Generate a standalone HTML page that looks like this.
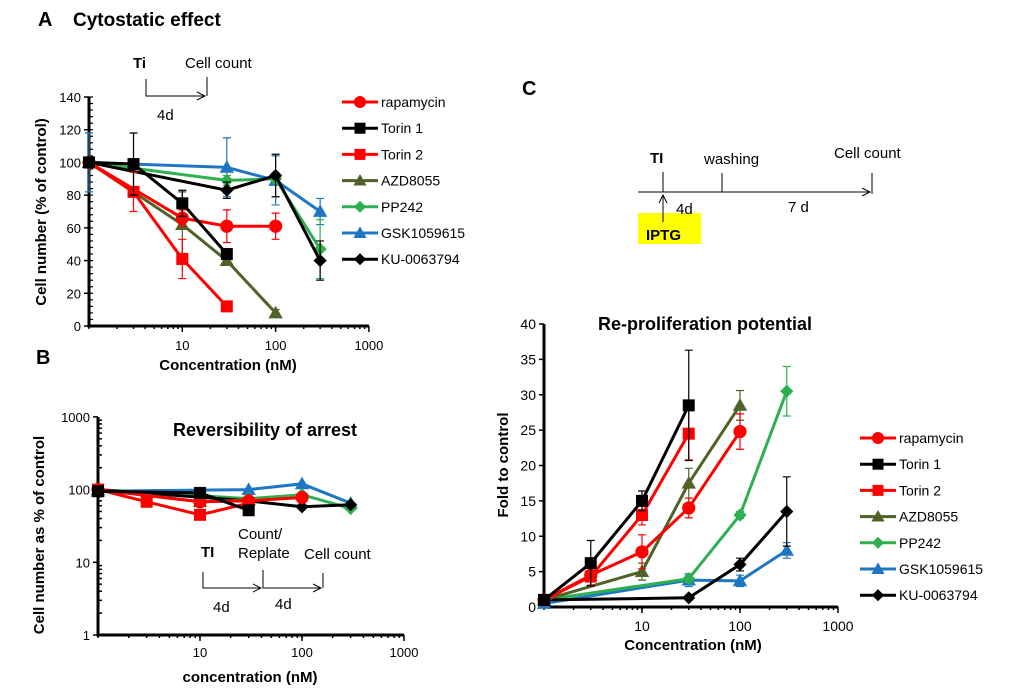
<!DOCTYPE html>
<html><head><meta charset="utf-8"><style>
body{margin:0;background:#fff}
svg{display:block;font-family:"Liberation Sans",Arial,sans-serif}
</style></head><body>
<svg id="fig" width="1020" height="694" viewBox="0 0 1020 694" xmlns="http://www.w3.org/2000/svg">
<defs><marker id="ar" markerWidth="10" markerHeight="10" refX="9" refY="5" orient="auto"><path d="M1,1 L9,5 L1,9" fill="none" stroke="#000" stroke-width="1"/></marker></defs>
<g>
<text x="38" y="26" font-size="20" font-weight="bold">A</text>
<text x="73" y="26" font-size="19" font-weight="bold">Cytostatic effect</text>
<text x="133" y="68" font-size="15" font-weight="bold">Ti</text>
<text x="185" y="68" font-size="15">Cell count</text>
<path d="M146,79 V96 H205" fill="none" stroke="#000" marker-end="url(#ar)"/>
<path d="M207,77 V96" stroke="#000"/>
<text x="157" y="120" font-size="15">4d</text>
</g>
<text x="36" y="364" font-size="20" font-weight="bold">B</text>
<text x="522" y="95" font-size="20" font-weight="bold">C</text>
<g>
<rect x="638" y="213" width="63" height="31" fill="#ffff00"/>
<text x="646" y="240" font-size="15" font-weight="bold">IPTG</text>
<text x="650" y="163" font-size="15" font-weight="bold">TI</text>
<text x="704" y="164" font-size="15">washing</text>
<text x="834" y="158" font-size="15">Cell count</text>
<path d="M638,192 H870" stroke="#000" marker-end="url(#ar)"/>
<path d="M663,172 V192 M722,173 V192 M872,173 V194" stroke="#000"/>
<path d="M663,222 V195" stroke="#000" marker-end="url(#ar)"/>
<text x="676" y="214" font-size="15">4d</text>
<text x="788" y="212" font-size="15">7 d</text>
</g>
<g>
<text x="201" y="557" font-size="15" font-weight="bold">TI</text>
<text x="238" y="539" font-size="15">Count/</text>
<text x="238" y="558" font-size="15">Replate</text>
<text x="304" y="559" font-size="15">Cell count</text>
<path d="M203,572 V588 H261" fill="none" stroke="#000" marker-end="url(#ar)"/>
<path d="M263,570 V588 H321" fill="none" stroke="#000" marker-end="url(#ar)"/>
<path d="M323,573 V588" stroke="#000"/>
<text x="213" y="612" font-size="15">4d</text>
<text x="275" y="609" font-size="15">4d</text>
</g>
<text x="265" y="436" font-size="18" font-weight="bold" text-anchor="middle">Reversibility of arrest</text>
<text x="705" y="330" font-size="18" font-weight="bold" text-anchor="middle">Re-proliferation potential</text>
</svg>
<script>
const names = ["rapamycin","Torin 1","Torin 2","AZD8055","PP242","GSK1059615","KU-0063794"];
const conc = [1,3,10,30,100,300];
// null = not measured
const aValues = [
 [100,null,66,61,61,null],
 [100,99,75,44,null,null],
 [100,82,41,12,null,null],
 [100,null,62,40,8,null],
 [100,null,null,89,90,47],
 [100,99,null,97,89,70],
 [100,null,null,83,92,40]];
const aErr = [
 [3,null,5,10,8,null],[3,19,8,3,null,null],[3,12,12,2,null,null],[3,null,20,2,2,null],
 [3,null,null,3,3,18],[18,3,null,18,15,8],[3,null,null,5,13,12]];
const bValues = [
 [100,null,68,70,78,null],
 [95,null,90,52,null,null],
 [100,68,45,65,null,null],
 [100,null,68,72,null,null],
 [100,null,null,75,85,55],
 [95,null,null,100,120,65],
 [100,null,null,70,58,62]];
const cValues = [
 [1,4.5,7.8,14,24.8,null],
 [1,6.2,15,28.5,null,null],
 [1,4.3,13,24.5,null,null],
 [1,null,5,17.5,28.5,null],
 [1,null,null,4,13,30.5],
 [0.5,null,null,3.8,3.7,8],
 [1,null,null,1.3,6,13.5]];
const cErr = [
 [0.5,1.5,2.4,1.4,2.5,null],[0.5,3.2,1.4,7.8,null,null],[0.5,1.2,1.4,3.7,null,null],
 [0.5,null,1.2,2.1,2.1,null],[0.5,null,null,0.5,0.5,3.5],[0.5,null,null,0.9,0.8,1.1],[0.5,null,null,0.3,0.9,4.9]];
const aTicks=[0,20,40,60,80,100,120,140];
const bTicks=[1,10,100,1000];
const cTicks=[0,5,10,15,20,25,30,35,40];
const xTickLabels=[10,100,1000];

const colors=["#ff0000","#000000","#ff0000","#4f6228","#2fb050","#1f77c4","#000000"];
const markers=["circle","square","square","triangle","diamond","triangle","diamond"];
const NS="http://www.w3.org/2000/svg";
const svg=document.getElementById('fig');
function el(t,a,p){const e=document.createElementNS(NS,t);for(const k in a)e.setAttribute(k,a[k]);(p||svg).appendChild(e);return e;}
function marker(g,type,x,y,c,s){
 if(type==="circle")return el('circle',{cx:x,cy:y,r:s*0.55,fill:c},g);
 if(type==="square")return el('rect',{x:x-s/2,y:y-s/2,width:s,height:s,fill:c},g);
 if(type==="triangle")return el('polygon',{points:`${x},${y-s*0.6} ${x+s*0.6},${y+s*0.45} ${x-s*0.6},${y+s*0.45}`,fill:c},g);
 return el('polygon',{points:`${x},${y-s*0.55} ${x+s*0.55},${y} ${x},${y+s*0.55} ${x-s*0.55},${y}`,fill:c},g);
}
function panel(cfg){
 const g=el('g',{});  
 const xs=v=>cfg.x0+Math.log10(v)*cfg.dec;
 const ys=v=>cfg.log?cfg.yb-Math.log10(v)*cfg.ydec:cfg.yb-(v-cfg.ymin)/(cfg.ymax-cfg.ymin)*(cfg.yb-cfg.yt);
 const ax=el('path',{d:`M${cfg.x0},${cfg.yt} V${cfg.yb} H${xs(1000)}`,stroke:'#000','stroke-width':3,fill:'none'},g);
 
 for(let d=0;d<3;d++)for(let m=1;m<=10;m++){const xx=xs(m*Math.pow(10,d));el('line',{x1:xx,x2:xx,y1:cfg.yb,y2:cfg.yb+(m===10?6:3),stroke:'#000','stroke-width':1.5},g);}
 cfg.ticks.forEach(t=>{const yy=ys(t);el('line',{x1:cfg.x0-5,x2:cfg.x0,y1:yy,y2:yy,stroke:'#000','stroke-width':1.5},g);
  const tx=el('text',{x:cfg.x0-8,y:yy+5,'font-size':cfg.fs,'text-anchor':'end'},g);tx.textContent=t;});
 if(cfg.minorY){ if(cfg.log){for(let d=0;d<3;d++)for(let m=2;m<10;m++){const yy=ys(m*Math.pow(10,d));el('line',{x1:cfg.x0,x2:cfg.x0+4,y1:yy,y2:yy,stroke:'#000','stroke-width':1.5},g);}}
  else{for(let v=cfg.ymin;v<=cfg.ymax;v+=4){const yy=ys(v);el('line',{x1:cfg.x0,x2:cfg.x0+4,y1:yy,y2:yy,stroke:'#000','stroke-width':1.2},g);}}}
 xTickLabels.forEach(t=>{const tx=el('text',{x:xs(t),y:cfg.yb+cfg.xlOff,'font-size':cfg.fs,'text-anchor':'middle'},g);tx.textContent=t;});
 const xt=el('text',{x:cfg.xtX,y:cfg.xtY,'font-size':15,'font-weight':'bold','text-anchor':'middle'},g);xt.textContent=cfg.xTitle;
 const yt=el('text',{x:0,y:0,'font-size':15,'font-weight':'bold','text-anchor':'middle',transform:`translate(${cfg.ytX},${cfg.ytY}) rotate(-90)`},g);yt.textContent=cfg.yTitle;
 const order=[5,4,6,3,0,2,1];
 order.forEach(i=>{const vals=cfg.values[i];const err=cfg.err?cfg.err[i]:null;
  const sg=el('g',{},g);
  const pts=[];vals.forEach((v,j)=>{if(v!=null)pts.push([xs(conc[j]),ys(v),j,v]);});
  if(err)pts.forEach(p=>{const e=err[p[2]];if(e){const y2=ys(cfg.log?p[3]:p[3]+e),y1=ys(cfg.log?p[3]:Math.max(p[3]-e,cfg.ymin));
   el('path',{d:`M${p[0]},${y1} V${y2} M${p[0]-4},${y2} H${p[0]+4} M${p[0]-4},${y1} H${p[0]+4}`,stroke:colors[i],'stroke-width':1.2,fill:'none'},sg);}});
  el('polyline',{points:pts.map(p=>p[0]+','+p[1]).join(' '),fill:'none',stroke:colors[i],'stroke-width':3},sg);
  pts.forEach(p=>{const m=marker(sg,markers[i],p[0],p[1],colors[i],cfg.ms);});
 });
 if(cfg.leg){const lg=el('g',{},g);
  names.forEach((n,i)=>{const y=cfg.leg.y+i*cfg.leg.dy;const eg=el('g',{},lg);
   el('line',{x1:cfg.leg.x,x2:cfg.leg.x+36,y1:y,y2:y,stroke:colors[i],'stroke-width':3},eg);marker(eg,markers[i],cfg.leg.x+18,y,colors[i],11);
   const t=el('text',{x:cfg.leg.x+39,y:y+5,'font-size':14},eg);t.textContent=n;});}
}
panel({name:'chart-a',x0:89,dec:93.3,yt:97,yb:326,ymin:0,ymax:140,ticks:aTicks,values:aValues,err:aErr,fs:13,xlOff:24,ms:12,minorY:true,
 xTitle:'Concentration (nM)',xtX:228,xtY:370,yTitle:'Cell number (% of control)',ytX:46,ytY:212,leg:{x:342,y:102,dy:26.2}});
panel({name:'chart-b',x0:98,dec:102,yt:417,yb:635,log:true,ydec:72.7,ticks:bTicks,values:bValues,fs:13,xlOff:22,ms:12,minorY:true,
 xTitle:'concentration (nM)',xtX:250,xtY:682,yTitle:'Cell number as % of control',ytX:44,ytY:535});
panel({name:'chart-c',x0:544,dec:98,yt:324,yb:607,ymin:0,ymax:40,ticks:cTicks,values:cValues,err:cErr,fs:14,xlOff:24,ms:12,
 xTitle:'Concentration (nM)',xtX:693,xtY:650,yTitle:'Fold to control',ytX:508,ytY:465,leg:{x:860,y:438,dy:26.2}});
</script>
</body></html>
